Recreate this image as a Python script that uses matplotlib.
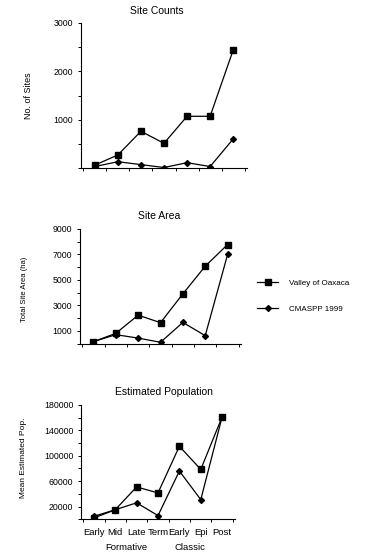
import matplotlib
matplotlib.use("Agg")
import matplotlib.pyplot as plt
import numpy as np

periods = ["Early", "Mid", "Late", "Term", "Early", "Epi", "Post"]
groups = ["Formative", "Classic"]

site_counts_valley = [60, 270, 760, 510, 1070, 1070, 2440]
site_counts_cmaspp = [30, 130, 70, 10, 110, 30, 600]

site_area_valley = [160, 810, 2240, 1650, 3910, 6080, 7780]
site_area_cmaspp = [160, 710, 440, 110, 1670, 630, 7000]

pop_valley = [2100, 15000, 51000, 41500, 115000, 78500, 161500]
pop_cmaspp = [4700, 15000, 26000, 5800, 76000, 31000, 161500]

series_names = ["Valley of Oaxaca", "CMASPP 1999"]

plt.rcParams['font.family'] = ['Liberation Sans', 'DejaVu Sans']

fig = plt.figure(figsize=(3.65, 5.55), dpi=100)

panels = [
    dict(rect=[81/365, (555-168)/555, 166/365, 145/555], v=site_counts_valley, c=site_counts_cmaspp,
         ylim=3000, major=[1000, 2000, 3000], minor=500, title="Site Counts", ylabel="No. of Sites",
         tpos=(157, 11), lx=-0.289, ly=0.5, lfs=6.5),
    dict(rect=[80/365, (555-343.7)/555, 161/365, 114.7/555], v=site_area_valley, c=site_area_cmaspp,
         ylim=9000, major=[1000, 3000, 5000, 7000, 9000], minor=1000, title="Site Area", ylabel="Total Site Area (ha)",
         tpos=(159, 216), lx=-0.323, ly=0.47, lfs=5.5),
    dict(rect=[81/365, (555-519.3)/555, 154/365, 114.3/555], v=pop_valley, c=pop_cmaspp,
         ylim=180000, major=[20000, 60000, 100000, 140000, 180000], minor=20000, title="Estimated Population", ylabel="Mean Estimated Pop.",
         tpos=(164, 392), lx=-0.351, ly=0.54, lfs=6.0),
]

x = np.arange(len(periods))
axes = []
for i, p in enumerate(panels):
    ax = fig.add_axes(p["rect"])
    ax.plot(x, p["v"], color="black", lw=0.9, marker="s", ms=4.8, label=series_names[0])
    ax.plot(x, p["c"], color="black", lw=0.9, marker="D", ms=3.0, label=series_names[1])
    ax.set_xlim(-0.6, len(periods) - 0.4)
    ax.set_ylim(0, p["ylim"])
    ax.spines["top"].set_visible(False)
    ax.spines["right"].set_visible(False)
    ax.spines["left"].set_linewidth(0.8)
    ax.spines["bottom"].set_linewidth(0.8)
    yt = np.arange(0, p["ylim"] + 1, p["minor"])
    ax.set_yticks(yt)
    ax.set_yticklabels([str(int(t)) if int(t) in p["major"] else "" for t in yt])
    ax.tick_params(axis="y", labelsize=6.3, length=2.5, width=0.7, pad=3)
    ax.set_xticks(np.arange(len(periods) + 1) - 0.5)
    ax.set_xticklabels([])
    ax.tick_params(axis="x", length=2, width=0.7)
    fig.text(p["tpos"][0] / 365, 1 - p["tpos"][1] / 555, p["title"], ha="center", va="center", fontsize=7.5)
    ax.set_ylabel(p["ylabel"], fontsize=p["lfs"])
    ax.yaxis.set_label_coords(p["lx"], p["ly"])
    axes.append(ax)

# category labels on bottom panel
ax3 = axes[2]
for xi, lab in zip(x, periods):
    ax3.text(xi, -0.08, lab, transform=ax3.get_xaxis_transform(), ha="center", va="top", fontsize=6.8)
ax3.text(1.5, -0.21, groups[0], transform=ax3.get_xaxis_transform(), ha="center", va="top", fontsize=6.8)
ax3.text(4.5, -0.21, groups[1], transform=ax3.get_xaxis_transform(), ha="center", va="top", fontsize=6.8)

handles, labels = axes[1].get_legend_handles_labels()
fig.legend(handles, labels, loc="center left", bbox_to_anchor=(250/365, (555-296)/555),
           frameon=False, fontsize=5.8, handlelength=2.6, labelspacing=2.3, handletextpad=1.3)

fig.savefig("out.png", dpi=100)
